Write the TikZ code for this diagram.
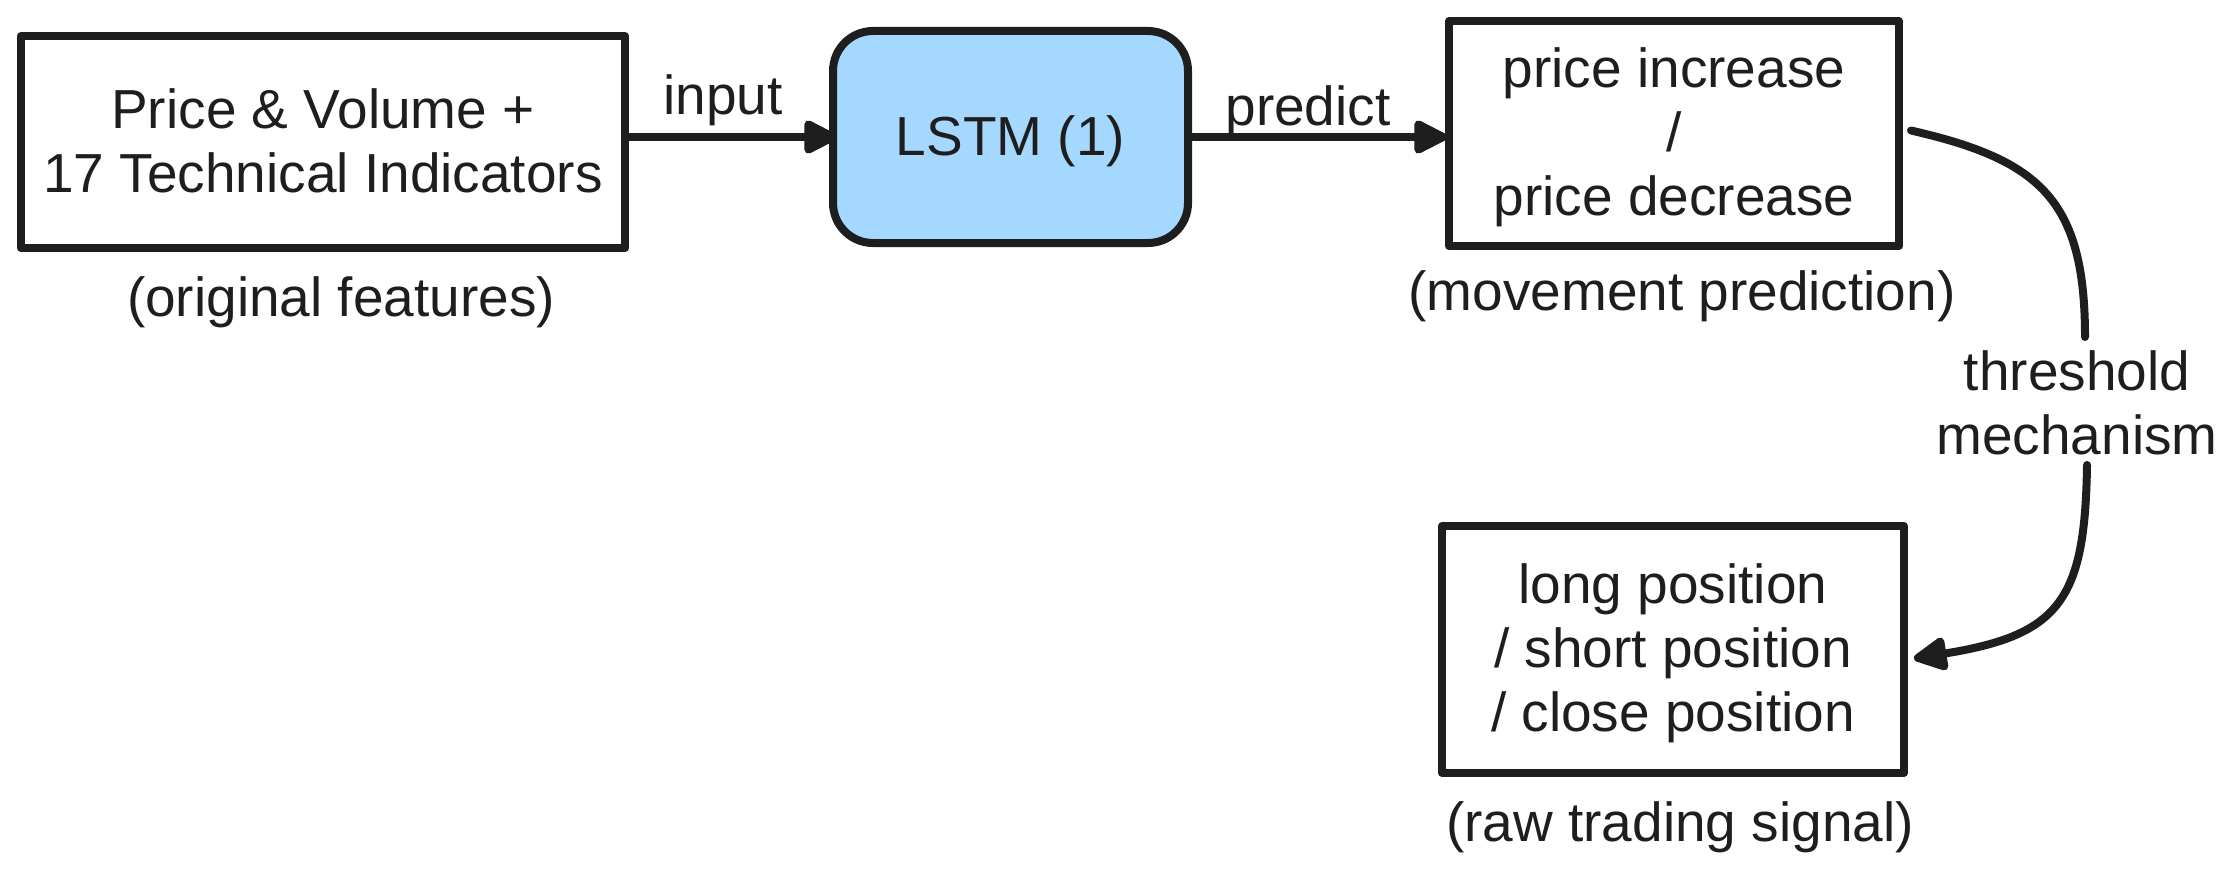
\documentclass[tikz,border=0pt]{standalone}
\usepackage{fontspec}
\setmainfont{Liberation Sans}
\usetikzlibrary{arrows.meta,calc}
\definecolor{ink}{HTML}{1E1E1E}
\definecolor{lstmblue}{HTML}{A5D8FF}
\newcommand{\lsx}{\rule[-14pt]{0pt}{64pt}}
\begin{document}
\begin{tikzpicture}[x=1pt,y=-1pt,
  every node/.style={font=\fontsize{55}{64}\selectfont, text=ink},
  box/.style={draw=ink, line width=8pt, inner sep=0pt, align=center, line join=round},
  lbl/.style={inner sep=0pt, anchor=base},
  arr/.style={draw=ink, line width=8pt, -{Triangle[length=38pt,width=36pt,round]}},
  link/.style={draw=ink, line width=8pt, line cap=round}
]
\useasboundingbox (0,0) rectangle (2221,875);

\node[box, minimum width=604pt, minimum height=212pt] (b1) at (323,142)
  {\lsx Price \& Volume +\\\lsx 17 Technical Indicators};
\node[box, fill=lstmblue, rounded corners=40pt, minimum width=355pt, minimum height=212pt] (lstm) at (1010.5,137)
  {\lsx LSTM (1)};
\node[box, minimum width=450pt, minimum height=225pt] (b3) at (1674,133.5)
  {\lsx price increase\\\lsx /\\\lsx price decrease};
\node[box, minimum width=462pt, minimum height=247pt] (b4) at (1673,649.5)
  {\lsx long position\\\lsx / short position\\\lsx / close position};

\node[lbl] (n1) at (341,316) {(original features)};
\node[lbl] (n3) at (1682,310) {(movement prediction)};
\node[lbl] (n4) at (1680,841) {(raw trading signal)};

\node[lbl] (linput) at (723,114) {input};
\node[lbl] (lpredict) at (1308,125) {predict};
\node[inner sep=0pt, outer sep=0pt, align=center] (lthr) at (2077,404)
  {\lsx threshold\\\lsx mechanism};

\draw[arr] (b1.east |- lstm.west) -- ([xshift=8pt]lstm.west);
\draw[arr] (lstm.east) -- ([xshift=2pt]lstm.east -| b3.west);

\draw[link] ([xshift=8pt,yshift=3pt]b3.east)
  .. controls (2040,160) and (2085,200) .. ([xshift=8pt,yshift=3pt]lthr.north);
\draw[arr, line cap=round] ([xshift=10pt,yshift=3pt]lthr.south)
  .. controls (2085,600) and (2060,635) .. ([xshift=6pt,yshift=-9pt]b4.east);
\end{tikzpicture}
\end{document}
